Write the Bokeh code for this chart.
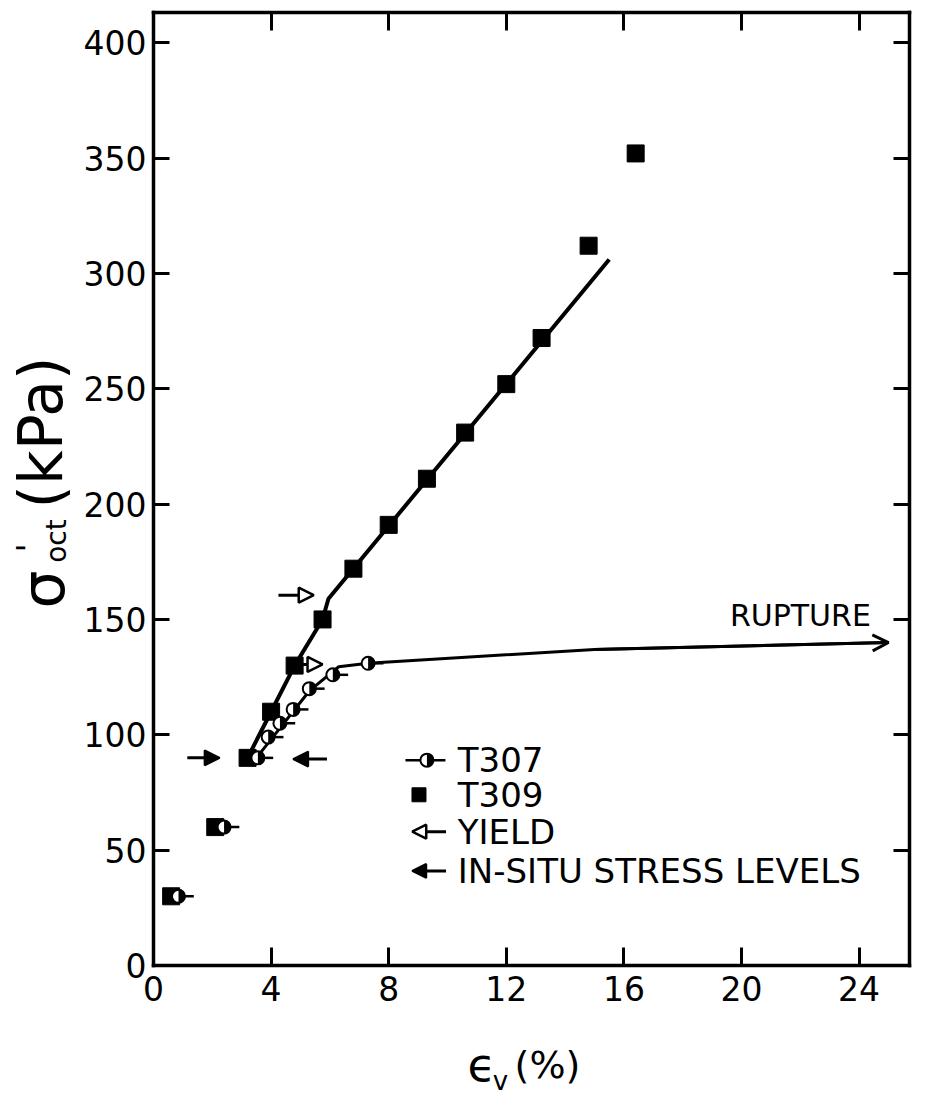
import numpy as np
from bokeh.plotting import figure
from bokeh.models import (Range1d, LinearAxis, FixedTicker, Label, Arrow,
                          NormalHead, OpenHead, ColumnDataSource)
from bokeh.embed import file_html
from bokeh.resources import INLINE

# --- measured data -------------------------------------------------------
# volumetric strain (%) and octahedral effective stress (kPa)
t307_ev = [0.85, 2.4, 3.55, 3.9, 4.3, 4.75, 5.3, 6.1, 7.3]
t307_sig = [30, 60, 90, 99, 105, 111, 120, 126, 131]

t309_ev = [0.6, 2.1, 3.2, 4.0, 4.8, 5.75, 6.8, 8.0, 9.3, 10.6, 12.0, 13.2, 14.8, 16.4]
t309_sig = [30, 60, 90, 110, 130, 150, 172, 191, 211, 231, 252, 272, 312, 352]

# hand-drawn trend lines
t309_fit_ev = [3.2, 4.0, 4.8, 5.75, 5.95, 15.5]
t309_fit_sig = [90, 110, 130, 150, 159, 306]
t307_fit_ev = [3.5, 5.3, 6.3, 7.3]
t307_fit_sig = [90, 119, 129.5, 131]
rupture_ev = [7.3, 15.0, 25.0]
rupture_sig = [131, 137, 140]

# yield markers (start strain, tip strain, stress)
yield_ev0 = [4.25, 4.85]
yield_ev1 = [5.45, 5.75]
yield_sig = [160.5, 130.5]

# in-situ stress level markers
insitu_ev0 = [1.15, 5.9]
insitu_ev1 = [2.25, 4.75]
insitu_sig = [90, 89.5]

x_ticks = [0, 4, 8, 12, 16, 20, 24]
y_ticks = [0, 50, 100, 150, 200, 250, 300, 350, 400]
X_MAX = 25.7     # right edge of the plot box (%)
Y_MAX = 413      # top edge of the plot box (kPa)

FONT = "DejaVu Sans"

# The plotting frame covers the whole page; the plot box is drawn by
# four axes pinned at fixed data locations.
W, H = 928, 1099
PX_LEFT, PX_BOTTOM = 153, 965          # page position of the (0, 0) corner
SX, SY = 29.4, 2.307                   # pixels per unit on x and y
x_range = Range1d(-PX_LEFT / SX, (W - PX_LEFT) / SX)
y_range = Range1d(-(H - PX_BOTTOM) / SY, PX_BOTTOM / SY)

p = figure(width=W, height=H, x_range=x_range, y_range=y_range,
           output_backend="svg", toolbar_location=None, min_border=0)
p.grid.visible = False
p.outline_line_color = None
p.background_fill_color = "white"
p.border_fill_color = "white"


def style_axis(ax, tick_len):
    ax.axis_line_width = 3.5
    ax.axis_line_cap = "square"
    ax.major_tick_line_width = 3
    ax.major_tick_in = tick_len
    ax.major_tick_out = 0
    ax.minor_tick_in = 0
    ax.minor_tick_out = 0
    ax.major_label_text_font = FONT
    ax.major_label_text_font_size = "33px"
    ax.major_label_text_color = "black"


bottom = p.xaxis[0]
style_axis(bottom, 18)
bottom.fixed_location = 0
bottom.bounds = (0, X_MAX)
bottom.ticker = FixedTicker(ticks=x_ticks)
bottom.major_label_standoff = 10

left = p.yaxis[0]
style_axis(left, 16)
left.fixed_location = 0
left.bounds = (0, Y_MAX)
left.ticker = FixedTicker(ticks=y_ticks)
left.major_label_standoff = 7

top = LinearAxis(fixed_location=Y_MAX, bounds=(0, X_MAX), ticker=FixedTicker(ticks=x_ticks[1:]))
style_axis(top, 18)
top.major_label_text_color = None
right = LinearAxis(fixed_location=X_MAX, bounds=(0, Y_MAX), ticker=FixedTicker(ticks=y_ticks[1:]))
style_axis(right, 16)
right.major_label_text_color = None
p.add_layout(top, "above")
p.add_layout(right, "right")

# trend lines
p.line(t309_fit_ev, t309_fit_sig, line_color="black", line_width=4)
p.line(t307_fit_ev, t307_fit_sig, line_color="black", line_width=3)
p.line(rupture_ev, rupture_sig, line_color="black", line_width=3)
p.add_layout(Arrow(end=OpenHead(size=16, line_width=3, line_color="black"),
                   x_start=rupture_ev[-2], y_start=rupture_sig[-2],
                   x_end=rupture_ev[-1], y_end=rupture_sig[-1], line_width=3))

# T309: solid squares
p.scatter(t309_ev, t309_sig, marker="square", size=17, fill_color="black", line_color="black")

# T307: half-filled circles with a short tail
t307_x = np.array(t307_ev)
p.segment(x0=t307_x + 0.2, y0=t307_sig, x1=t307_x + 0.52, y1=t307_sig,
          line_color="black", line_width=2.5)
p.scatter(t307_ev, t307_sig, marker="circle", size=13, fill_color="white",
          line_color="black", line_width=2)
p.wedge(t307_ev, t307_sig, radius=6.5, radius_units="screen",
        start_angle=-np.pi / 2, end_angle=np.pi / 2, fill_color="black", line_color=None)

# yield and in-situ arrows
ysrc = ColumnDataSource(dict(x0=yield_ev0, x1=yield_ev1, y=yield_sig))
p.add_layout(Arrow(end=NormalHead(size=15, fill_color="white", line_color="black", line_width=2.5),
                   x_start="x0", y_start="y", x_end="x1", y_end="y", source=ysrc, line_width=3))
isrc = ColumnDataSource(dict(x0=insitu_ev0, x1=insitu_ev1, y=insitu_sig))
p.add_layout(Arrow(end=NormalHead(size=15, fill_color="black", line_color="black", line_width=2),
                   x_start="x0", y_start="y", x_end="x1", y_end="y", source=isrc, line_width=3))


def label(x, y, text, size, align="center", baseline="middle", angle=0.0):
    p.add_layout(Label(x=x, y=y, text=text, text_font=FONT, text_font_size=size,
                       text_align=align, text_baseline=baseline, angle=angle,
                       text_color="black"))


# RUPTURE annotation
label(24.4, 144, "RUPTURE", "30px", align="right", baseline="bottom")

# key
leg_y = [89, 74, 58, 41]
leg_text = ["T307", "T309", "YIELD", "IN-SITU STRESS LEVELS"]
p.segment(x0=[8.57], y0=[leg_y[0]], x1=[9.93], y1=[leg_y[0]], line_color="black", line_width=2.5)
p.scatter([9.3], [leg_y[0]], marker="circle", size=13, fill_color="white", line_color="black", line_width=2)
p.wedge([9.3], [leg_y[0]], radius=6.5, radius_units="screen",
        start_angle=-np.pi / 2, end_angle=np.pi / 2, fill_color="black", line_color=None)
p.scatter([9.03], [leg_y[1]], marker="square", size=14, fill_color="black", line_color="black")
p.add_layout(Arrow(end=NormalHead(size=14, fill_color="white", line_color="black", line_width=2.5),
                   x_start=9.95, y_start=leg_y[2], x_end=8.8, y_end=leg_y[2], line_width=3))
p.add_layout(Arrow(end=NormalHead(size=14, fill_color="black", line_color="black", line_width=2),
                   x_start=9.95, y_start=leg_y[3], x_end=8.8, y_end=leg_y[3], line_width=3))
for yy, tt in zip(leg_y, leg_text):
    label(10.35, yy, tt, "34px", align="left")

# axis titles built from pieces (subscripts / primes)
label(11.16, -43, "\u03f5", "46px")
label(11.8, -50, "v", "26px")
label(13.4, -43, "(%)", "38px")

label(-3.75, 163, "\u03c3", "60px", angle=np.pi / 2)
label(-4.25, 181, "'", "34px", angle=np.pi / 2)
label(-3.3, 184, "oct", "28px", angle=np.pi / 2)
label(-3.84, 231, "(kPa)", "60px", angle=np.pi / 2)

open("out.html", "w").write(file_html(p, INLINE))
